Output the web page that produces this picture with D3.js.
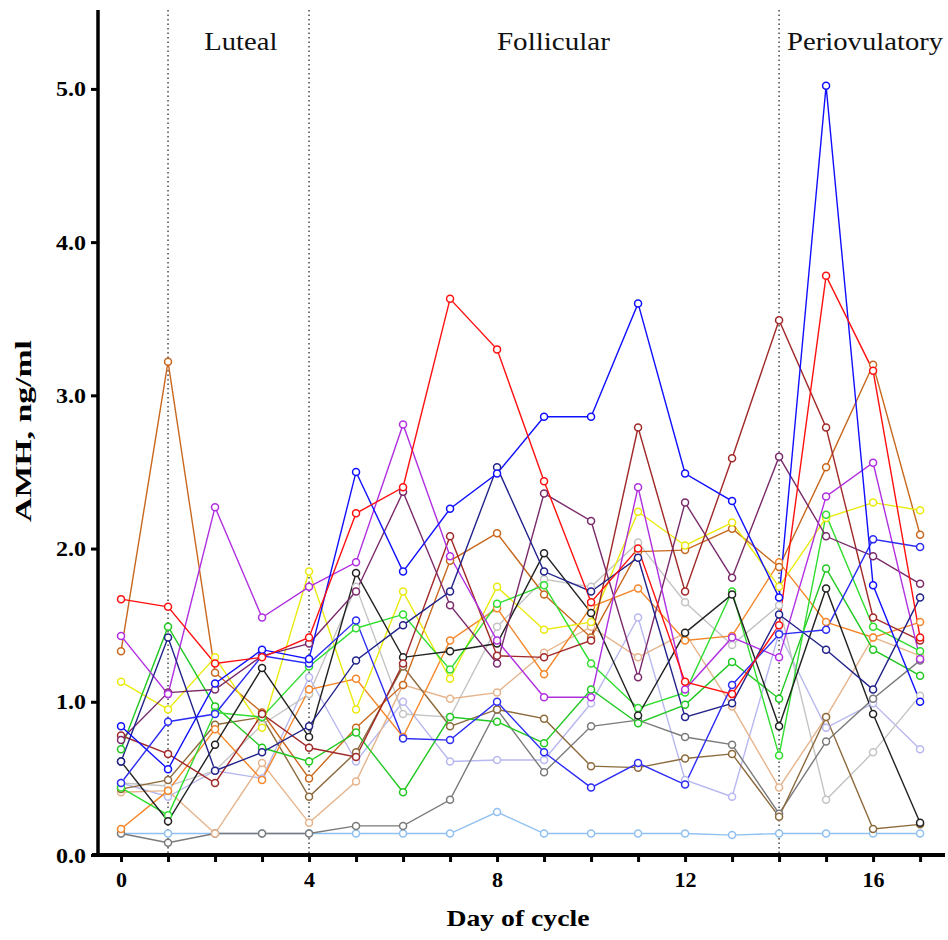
<!DOCTYPE html>
<html><head><meta charset="utf-8">
<script src="https://cdn.jsdelivr.net/npm/d3@7"></script>
<style>body{margin:0;background:#fff}</style>
</head><body>
<svg id="c" width="948" height="940"></svg>
<script>
const days = [0,1,2,3,4,5,6,7,8,9,10,11,12,13,14,15,16,17];
const xTicks = [0,4,8,12,16];
const yTicks = [0,1,2,3,4,5];
const phaseBounds = [1,4,14];
const phaseNames = ["Luteal","Follicular","Periovulatory"];
const phaseCenters = [2.55,9.2,15.83];
const phaseWidths = [73,113,156];

const lightblue = [0.14,0.14,0.14,0.14,0.14,0.14,0.14,0.14,0.28,0.14,0.14,0.14,0.14,0.13,0.14,0.14,0.14,0.14];
const lavender  = [0.47,0.38,0.55,0.50,1.16,0.61,1.00,0.61,0.62,0.62,0.99,1.55,0.49,0.38,1.45,0.83,0.99,0.69];
const gray      = [0.47,0.45,0.55,0.85,1.05,1.75,0.92,0.90,1.49,1.80,1.75,2.04,1.65,1.37,1.63,0.36,0.67,1.04];
const darkgray  = [0.14,0.08,0.14,0.14,0.14,0.19,0.19,0.36,0.95,0.54,0.84,0.88,0.77,0.72,0.27,0.74,1.02,1.27];
const tan       = [0.41,0.42,0.14,0.60,0.21,0.48,1.11,1.02,1.06,1.32,1.49,1.29,1.45,0.97,0.44,0.90,1.42,1.30];
const brown     = [0.43,0.49,0.85,0.90,0.38,0.67,1.23,0.84,0.95,0.89,0.58,0.57,0.63,0.66,0.25,0.90,0.17,0.20];
const orange    = [0.17,0.42,0.82,0.49,1.08,1.15,0.77,1.40,1.61,1.18,1.62,1.74,1.40,1.43,1.91,1.52,1.42,1.52];
const chocolate = [1.33,3.22,1.19,0.93,0.50,0.83,1.11,1.92,2.10,1.70,1.42,1.98,1.99,2.13,1.88,2.53,3.20,2.09];
const yellow    = [1.13,0.95,1.29,0.83,1.85,0.95,1.72,1.15,1.75,1.47,1.52,2.24,2.02,2.17,1.75,2.20,2.30,2.25];
const greenA    = [0.69,1.49,0.97,0.70,0.61,0.80,0.41,0.90,0.87,0.73,1.08,0.86,0.98,1.26,1.02,1.87,1.34,1.17];
const greenB    = [0.44,0.26,0.93,0.90,1.23,1.48,1.57,1.21,1.64,1.76,1.25,0.96,1.06,1.72,0.65,2.22,1.49,1.33];
const black     = [0.61,0.22,0.72,1.22,0.77,1.84,1.29,1.33,1.38,1.97,1.58,0.91,1.45,1.70,0.84,1.74,0.92,0.21];
const maroon    = [0.78,0.66,0.47,0.92,0.70,0.64,1.25,2.08,1.30,1.29,1.40,2.79,1.72,2.59,3.49,2.79,1.55,1.40];
const plum      = [0.75,1.06,1.08,1.30,1.38,1.72,2.37,1.63,1.25,2.36,2.18,1.16,2.30,1.81,2.60,2.08,1.95,1.77];
const purple    = [1.43,1.05,2.27,1.55,1.75,1.91,2.81,1.95,1.40,1.03,1.03,2.40,1.08,1.42,1.29,2.34,2.56,1.28];
const navy      = [0.61,1.42,0.55,0.67,0.84,1.27,1.50,1.72,2.53,1.85,1.72,1.94,0.90,0.99,1.57,1.34,1.08,1.68];
const blueB     = [0.47,0.87,0.92,1.30,1.25,1.53,0.76,0.75,1.00,0.67,0.44,0.60,0.46,1.11,1.44,1.47,2.06,2.01];
const blueA     = [0.84,0.56,1.12,1.34,1.28,2.50,1.85,2.26,2.49,2.86,2.86,3.60,2.49,2.31,1.68,5.02,1.76,1.00];
const red       = [1.67,1.62,1.25,1.29,1.42,2.23,2.40,3.63,3.30,2.44,1.65,2.00,1.13,1.05,1.50,3.78,3.16,1.42];

const series = [
  {v: lightblue, c: "#90c0f0"},
  {v: lavender,  c: "#b8b8f0"},
  {v: gray,      c: "#c4c4c4"},
  {v: darkgray,  c: "#7a7a7a"},
  {v: tan,       c: "#e6b48c"},
  {v: brown,     c: "#8c6a3c"},
  {v: orange,    c: "#f5862a"},
  {v: chocolate, c: "#c8681e"},
  {v: yellow,    c: "#eaea10"},
  {v: greenA,    c: "#22c822"},
  {v: greenB,    c: "#30dd30"},
  {v: black,     c: "#222222"},
  {v: maroon,    c: "#a02828"},
  {v: plum,      c: "#7a2a6a"},
  {v: purple,    c: "#b030e0"},
  {v: navy,      c: "#22228a"},
  {v: blueB,     c: "#2c2cf5"},
  {v: blueA,     c: "#1010ff"},
  {v: red,       c: "#ff1010"}
];

const svg = d3.select("#c");
const x = d3.scaleLinear().domain([-0.49, 17.53]).range([98, 945]);
const y = d3.scaleLinear().domain([0, 5.515]).range([855, 10]);
const serif = "'Liberation Serif','Times New Roman',serif";

// phase dotted lines
svg.selectAll("line.phase").data(phaseBounds).join("line")
  .attr("x1", d => x(d)).attr("x2", d => x(d))
  .attr("y1", y(5.515)).attr("y2", y(0))
  .attr("stroke", "#555").attr("stroke-width", 1.6)
  .attr("stroke-dasharray", "1.5,3");

svg.selectAll("text.phase").data(phaseNames).join("text")
  .attr("x", (d,i) => x(phaseCenters[i])).attr("y", 50)
  .attr("text-anchor", "middle")
  .attr("font-family", serif).attr("font-size", 25)
  .attr("textLength", (d,i) => phaseWidths[i]).attr("lengthAdjust", "spacingAndGlyphs")
  .attr("fill", "#111").text(d => d);

const line = d3.line().x((d,i) => x(days[i])).y(d => y(d));
const g = svg.append("g");
series.forEach(s => {
  g.append("path").datum(s.v).attr("d", line)
    .attr("fill", "none").attr("stroke", s.c).attr("stroke-width", 1.4);
});
series.forEach(s => {
  g.selectAll(null).data(s.v).join("circle")
    .attr("cx", (d,i) => x(days[i])).attr("cy", d => y(d))
    .attr("r", 3.5).attr("fill", "#fff")
    .attr("stroke", s.c).attr("stroke-width", 1.5);
});

// axes
const xAxis = d3.axisBottom(x).tickValues(days).tickSize(7)
  .tickFormat(d => xTicks.includes(d) ? d : "");
const xg = svg.append("g").attr("transform", "translate(0,855)").call(xAxis);
xg.select(".domain").remove();
xg.selectAll(".tick line").attr("stroke", "#000").attr("stroke-width", 3);
xg.selectAll(".tick text").attr("font-family", serif).attr("font-weight", "bold")
  .attr("font-size", 22).attr("fill", "#000").attr("dy", "1.0em");
svg.append("line").attr("x1", 92).attr("x2", x(17.53))
  .attr("y1", y(0)).attr("y2", y(0)).attr("stroke", "#000").attr("stroke-width", 4);

const yAxis = d3.axisLeft(y).tickValues(yTicks).tickSize(7).tickFormat(d3.format(".1f"));
const yg = svg.append("g").attr("transform", "translate(98,0)").call(yAxis);
yg.select(".domain").remove();
yg.selectAll(".tick line").attr("stroke", "#000").attr("stroke-width", 3);
yg.selectAll(".tick text").attr("font-family", serif).attr("font-weight", "bold")
  .attr("font-size", 22).attr("fill", "#000").attr("x", -12)
  .attr("textLength", 30).attr("lengthAdjust", "spacingAndGlyphs");
svg.append("line").attr("x1", 98).attr("x2", 98)
  .attr("y1", y(5.515)).attr("y2", y(0) + 2).attr("stroke", "#000").attr("stroke-width", 3.5);

svg.append("text").attr("x", 518).attr("y", 926).attr("text-anchor", "middle")
  .attr("font-family", serif).attr("font-weight", "bold").attr("font-size", 23)
  .attr("textLength", 143).attr("lengthAdjust", "spacingAndGlyphs")
  .text("Day of cycle");
svg.append("text").attr("transform", "translate(31,431) rotate(-90)")
  .attr("text-anchor", "middle")
  .attr("font-family", serif).attr("font-weight", "bold").attr("font-size", 23)
  .attr("textLength", 182).attr("lengthAdjust", "spacingAndGlyphs")
  .text("AMH, ng/ml");
</script>
</body></html>
